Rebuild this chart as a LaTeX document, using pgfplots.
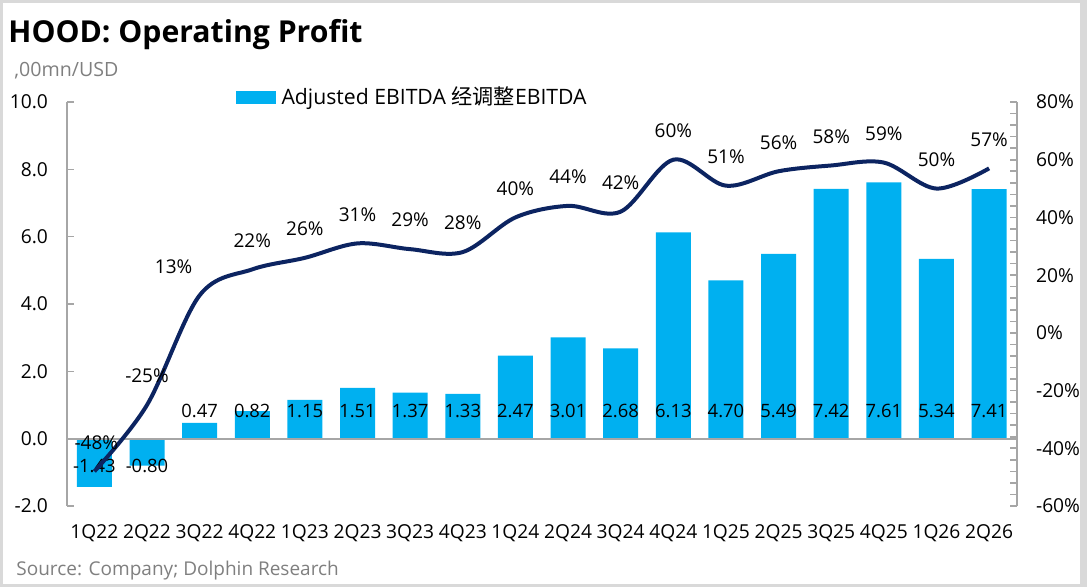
\documentclass[border=0pt]{standalone}
\usepackage{fontspec}
\setmainfont{Open Sans}
\newfontfamily\cjk{Noto Sans CJK SC}
\usepackage{pgfplots}
\pgfplotsset{compat=1.18}
\usepackage{pgfplotstable}
\definecolor{barblue}{HTML}{00B0F0}
\definecolor{navy}{HTML}{0C2461}
\definecolor{axgray}{HTML}{A6A6A6}
\definecolor{txtgray}{HTML}{7F7F7F}
\pgfplotsset{/pgf/number format/assume math mode=true}

\pgfplotstableread{
x y ly lab
0 -1.43 -0.80 -1.43
1 -0.80 -0.80 -0.80
2 0.47 0.83 0.47
3 0.82 0.83 0.82
4 1.15 0.83 1.15
5 1.51 0.83 1.51
6 1.37 0.83 1.37
7 1.33 0.83 1.33
8 2.47 0.83 2.47
9 3.01 0.83 3.01
10 2.68 0.83 2.68
11 6.13 0.83 6.13
12 4.70 0.83 4.70
13 5.49 0.83 5.49
14 7.42 0.83 7.42
15 7.61 0.83 7.61
16 5.34 0.83 5.34
17 7.41 0.83 7.41
}\bars

\pgfplotstableread{
x y dx
0 -48 1
1 -25 0
2 13 -13
3 22 0
4 26 0
5 31 0
6 29 0
7 28 0
8 40 0
9 44 0
10 42 0
11 60 0
12 51 0
13 56 0
14 58 0
15 59 0
16 50 0
17 57 0
}\margin

\begin{document}
\begin{tikzpicture}
\path (0,0) rectangle (543.5pt,-293.5pt);
\draw[gray!30, line width=1.5pt] (0.75pt,-0.75pt) rectangle (541pt,-292.75pt);
\fill[gray!30] (540pt,0pt) rectangle (543.5pt,-293.5pt);
\node[anchor=base west, inner sep=0pt, font=\fontsize{15.1}{18}\selectfont\bfseries] at (4pt,-21.5pt) {HOOD: Operating Profit};
\node[anchor=base west, inner sep=0pt, text=txtgray, font=\fontsize{9.8}{12}\selectfont] at (7pt,-38.5pt) {,00mn/USD};
\node[anchor=base west, inner sep=0pt, text=txtgray, font=\fontsize{9.5}{11}\selectfont] at (8pt,-287.5pt) {Source: Company; Dolphin Research};

\begin{axis}[
  at={(33.5pt,-253pt)}, anchor=south west,
  scale only axis, width=475pt, height=202pt,
  xmin=-0.52, xmax=17.53, ymin=-2, ymax=10,
  axis y line*=left, axis x line*=bottom,
  x axis line style={draw=none},
  xtick={0,...,17},
  xticklabels={1Q22,2Q22,3Q22,4Q22,1Q23,2Q23,3Q23,4Q23,1Q24,2Q24,3Q24,4Q24,1Q25,2Q25,3Q25,4Q25,1Q26,2Q26},
  xtick style={draw=none},
  xticklabel style={yshift=-6pt},
  ytick={-2,0,...,10},
  yticklabel style={/pgf/number format/fixed, /pgf/number format/fixed zerofill, /pgf/number format/precision=1, xshift=-6pt},
  y axis line style={axgray, line width=0.8pt},
  ytick style={axgray, line width=0.8pt},
  tick align=inside, major tick length=3.5pt,
  tick label style={font=\fontsize{9.6}{11}\selectfont},
  legend style={draw=none, fill=none, at={(0.177,1.012)}, anchor=west, font=\fontsize{10.6}{12}\selectfont, inner sep=0pt},
  legend cell align=left,
  clip=false,
]
\addplot[ybar, bar width=17.5pt, fill=barblue, draw=none,
  legend image code/.code={\fill[barblue] (0pt,-3.3pt) rectangle (20pt,3.3pt); \path (21pt,0pt);}]
  table[x=x,y=y]{\bars};
\addlegendentry{Adjusted EBITDA {\cjk 经调整}EBITDA}
\draw[axgray, line width=0.9pt] (axis cs:-0.52,0) -- (axis cs:17.53,0);
\addplot[draw=none, mark=none, forget plot, nodes near coords, point meta=explicit symbolic,
  nodes near coords style={font=\fontsize{9.2}{11}\selectfont, anchor=center, text=black}]
  table[x=x,y=ly,meta=lab]{\bars};
\end{axis}

\begin{axis}[
  at={(33.5pt,-253pt)}, anchor=south west,
  scale only axis, width=475pt, height=202pt,
  xmin=-0.52, xmax=17.53, ymin=-60, ymax=80,
  axis y line*=right, axis x line=none,
  ytick={-60,-40,...,80}, minor y tick num=4,
  yticklabel={\pgfmathprintnumber{\tick}\%},
  yticklabel style={anchor=west, xshift=6pt},
  y axis line style={axgray, line width=0.8pt},
  ytick style={axgray, line width=0.8pt},
  minor tick style={axgray, line width=0.8pt},
  tick align=inside, major tick length=3.5pt, minor tick length=3.5pt,
  tick label style={font=\fontsize{9.6}{11}\selectfont},
  clip=false,
]
\addplot[navy, line width=2pt, smooth, tension=0.55, mark=none,
  point meta=y,
  visualization depends on={\thisrow{dx}\as\dx},
  nodes near coords={\pgfmathprintnumber[fixed,precision=0]{\pgfplotspointmeta}\%},
  nodes near coords style={font=\fontsize{9.5}{11}\selectfont, anchor=center, text=black, yshift=14.5pt, xshift={\dx*1pt}}]
  table[x=x,y=y]{\margin};
\end{axis}
\end{tikzpicture}
\end{document}
